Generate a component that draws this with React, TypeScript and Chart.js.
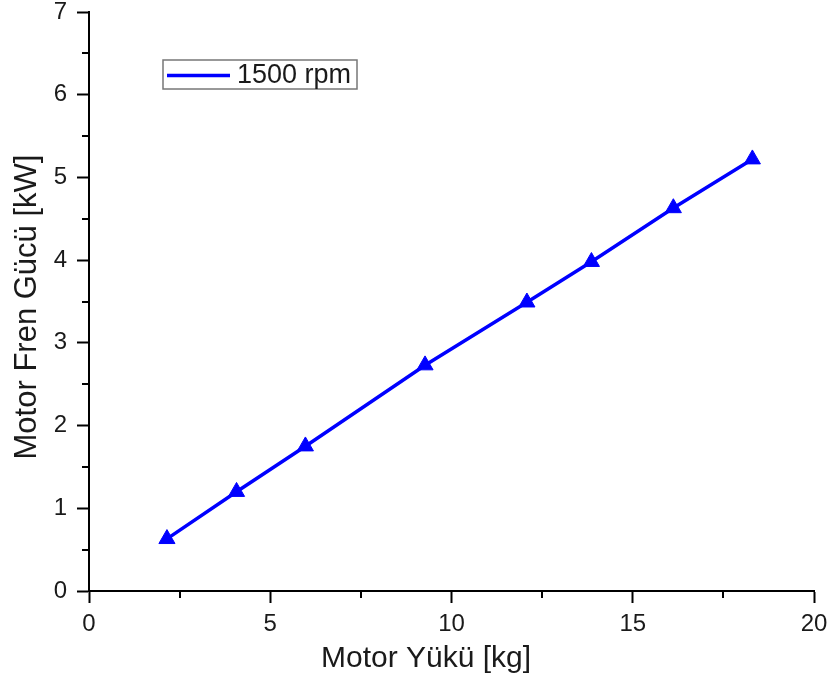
import React, { useEffect, useRef } from "react";
import { Chart, registerables } from "chart.js";

Chart.register(...registerables);

const loadKg = [2.15, 4.07, 5.97, 9.27, 12.08, 13.86, 16.12, 18.3];
const brakePowerKw = [0.63, 1.2, 1.75, 2.73, 3.49, 3.98, 4.63, 5.22];
const seriesLabel = "1500 rpm";
const xTitle = "Motor Yükü [kg]";
const yTitle = "Motor Fren Gücü [kW]";
const xMinorTicks = [2.5, 7.5, 12.5, 17.5];
const yMinorTicks = [0.5, 1.5, 2.5, 3.5, 4.5, 5.5, 6.5];

const FONT = "'Liberation Sans', Arial, sans-serif";
const BLUE = "#0000ff";

const decorPlugin = {
  id: "decor",
  afterDraw(chart: any) {
    const ctx = chart.ctx;
    const xs = chart.scales.x;
    const ys = chart.scales.y;
    const area = chart.chartArea;
    ctx.save();
    // minor ticks
    ctx.strokeStyle = "#000";
    ctx.lineWidth = 2;
    ctx.beginPath();
    xMinorTicks.forEach((v) => {
      const px = Math.round(xs.getPixelForValue(v));
      ctx.moveTo(px, area.bottom);
      ctx.lineTo(px, area.bottom + 7);
    });
    yMinorTicks.forEach((v) => {
      const py = Math.round(ys.getPixelForValue(v));
      ctx.moveTo(area.left, py);
      ctx.lineTo(area.left - 7, py);
    });
    ctx.stroke();

    // axis titles
    ctx.fillStyle = "#1a1a1a";
    ctx.font = `30px ${FONT}`;
    ctx.textAlign = "center";
    ctx.textBaseline = "middle";
    ctx.fillText(xTitle, 426, 659);
    ctx.save();
    ctx.font = `31px ${FONT}`;
    ctx.translate(27, 307);
    ctx.rotate(-Math.PI / 2);
    ctx.fillText(yTitle, 0, 0);
    ctx.restore();

    // legend
    const bx = 163, by = 60, bw = 194, bh = 29;
    ctx.strokeStyle = "#777";
    ctx.lineWidth = 1.5;
    ctx.strokeRect(bx, by, bw, bh);
    ctx.strokeStyle = BLUE;
    ctx.lineWidth = 3.5;
    ctx.beginPath();
    ctx.moveTo(bx + 4, by + bh / 2 + 1);
    ctx.lineTo(bx + 67, by + bh / 2 + 1);
    ctx.stroke();
    ctx.fillStyle = "#1a1a1a";
    ctx.font = `27px ${FONT}`;
    ctx.textAlign = "left";
    ctx.fillText(chart.data.datasets[0].label, bx + 74, by + bh / 2 + 1);
    ctx.restore();
  },
};

export default function App() {
  const ref = useRef<HTMLCanvasElement | null>(null);
  useEffect(() => {
    document.body.style.margin = "0";
    const canvas = ref.current!;
    const chart = new Chart(canvas, {
      type: "line",
      data: {
        datasets: [
          {
            label: seriesLabel,
            data: loadKg.map((x, i) => ({ x, y: brakePowerKw[i] })),
            borderColor: BLUE,
            backgroundColor: BLUE,
            borderWidth: 3.5,
            pointStyle: "triangle",
            pointRadius: 9.3,
            pointBorderWidth: 1,
            pointBackgroundColor: BLUE,
            pointBorderColor: BLUE,
            tension: 0,
          },
        ],
      },
      options: {
        animation: false,
        responsive: false,
        devicePixelRatio: 1,
        layout: { padding: { left: 0, right: 18, top: 12, bottom: 0 } },
        plugins: { legend: { display: false }, tooltip: { enabled: false } },
        scales: {
          x: {
            type: "linear",
            min: 0,
            max: 20,
            afterFit: (s: any) => {
              s.height = 90;
              s.paddingLeft = 0;
              s.paddingRight = 0;
            },
            ticks: {
              stepSize: 5,
              color: "#1a1a1a",
              font: { family: FONT, size: 24 },
              padding: 7,
            },
            grid: {
              drawOnChartArea: false,
              drawTicks: true,
              tickLength: 12,
              tickColor: "#000",
              tickWidth: 2,
            },
            border: { display: true, color: "#000", width: 2 },
          },
          y: {
            type: "linear",
            min: 0,
            max: 7,
            afterFit: (s: any) => {
              s.width = 89;
              s.paddingTop = 0;
              s.paddingBottom = 0;
            },
            ticks: {
              stepSize: 1,
              color: "#1a1a1a",
              font: { family: FONT, size: 24 },
              padding: 10,
            },
            grid: {
              drawOnChartArea: false,
              drawTicks: true,
              tickLength: 12,
              tickColor: "#000",
              tickWidth: 2,
            },
            border: { display: true, color: "#000", width: 2 },
          },
        },
      },
      plugins: [decorPlugin],
    } as any);
    return () => chart.destroy();
  }, []);
  return (
    <div style={{ width: 832, height: 681, background: "#fff" }}>
      <canvas ref={ref} width={832} height={681} style={{ display: "block" }} />
    </div>
  );
}
